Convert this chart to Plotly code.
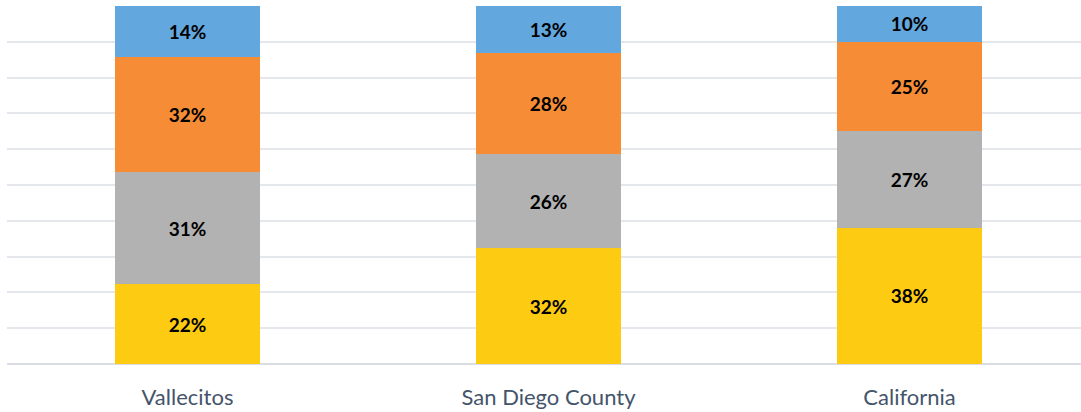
import plotly.graph_objects as go

categories = ["Vallecitos", "San Diego County", "California"]
series_names = ["Yellow", "Gray", "Orange", "Blue"]
yellow_vals = [22, 32, 38]
gray_vals = [31, 26, 27]
orange_vals = [32, 28, 25]
blue_vals = [14, 13, 10]

colors = ["#FDCB12", "#B2B2B2", "#F68D36", "#62A7DE"]

fig = go.Figure()
for name, vals, col in zip(series_names, [yellow_vals, gray_vals, orange_vals, blue_vals], colors):
    fig.add_trace(go.Bar(
        x=categories, y=vals, name=name,
        marker=dict(color=col, line=dict(width=0)),
        text=[f"{v}%" for v in vals],
        textposition="inside", insidetextanchor="middle",
        textangle=0,
        textfont=dict(family="Lato", size=19, color="#000000", weight="bold"),
        width=0.402,
        hoverinfo="skip",
    ))

fig.update_layout(
    barmode="stack", barnorm="percent",
    width=1081, height=412,
    margin=dict(l=7, r=0, t=6, b=48),
    paper_bgcolor="white", plot_bgcolor="white",
    showlegend=False,
    uniformtext=dict(mode=False),
    xaxis=dict(range=[-0.5, 2.475], showgrid=False, showline=False, zeroline=False,
               automargin=False, ticklabelstandoff=18,
               tickfont=dict(family="Lato", size=22, color="#44546A"), ticks=""),
    yaxis=dict(range=[0, 100], dtick=10, showgrid=True, gridcolor="#E4E7EC", gridwidth=1.5,
               automargin=False,
               showticklabels=False, zeroline=True, zerolinecolor="#DADDE3", zerolinewidth=1.5,
               showline=False),
)
fig.write_html("out.html", config={"displayModeBar": False},
               post_script="document.body.style.margin='0';document.body.style.overflow='hidden';")
